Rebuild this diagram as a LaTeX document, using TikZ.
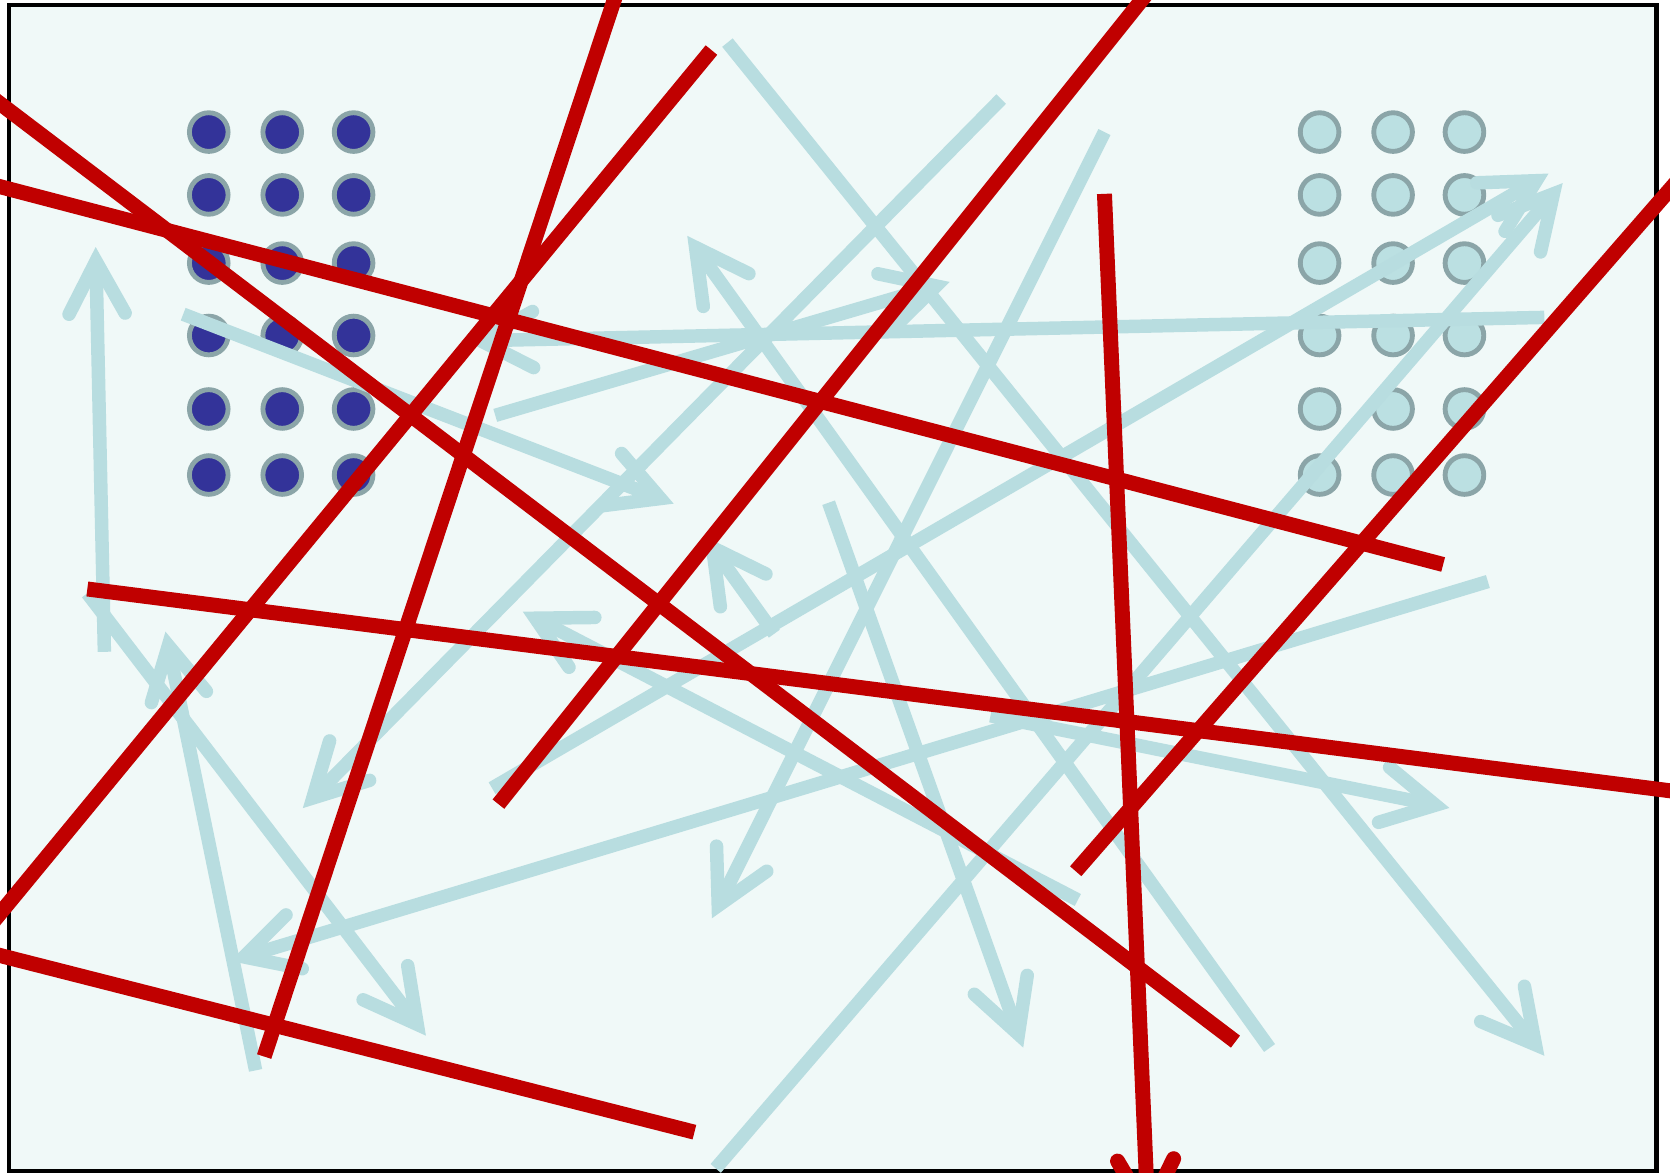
\documentclass[tikz,border=0pt]{standalone}
\usetikzlibrary{arrows.meta}
\definecolor{mint}{RGB}{240,249,248}
\definecolor{iceblue}{RGB}{184,221,224}
\definecolor{crimson}{RGB}{192,0,0}
\definecolor{indigo}{RGB}{51,51,153}
\definecolor{ringgray}{RGB}{139,165,168}
\definecolor{paleteal}{RGB}{187,224,226}

\begin{document}
\begin{tikzpicture}[
  x=0.1mm,y=-0.1mm,
  barb/.style={shorten >=-2.3pt,-{Straight Barb[length=14pt,width=15pt,line cap=round,line join=miter]}},
  ray/.style={draw=iceblue,line width=3.6pt,barb},
  cut/.style={draw=crimson,line width=4pt},
  darkdot/.style={circle,draw=ringgray,line width=1.3pt,fill=indigo,minimum size=3.63mm,inner sep=0pt},
  paledot/.style={circle,draw=ringgray,line width=1.3pt,fill=paleteal,minimum size=3.63mm,inner sep=0pt}
]
  \useasboundingbox (0,0) rectangle (1568,1101);
  \clip (0,0) rectangle (1568,1101);
  \fill[white] (0,0) rectangle (1568,1101);
  \filldraw[fill=mint,draw=black,line width=1.3pt] (8.4,4.7) rectangle (1555,1100);

  % dot grids
  \foreach \c [count=\i] in {196,265,332}
    \foreach \r [count=\j] in {124,183,247,315,384,446}
      \node[darkdot] (d\i\j) at (\c,\r) {};
  \foreach \c [count=\i] in {1239,1308,1375}
    \foreach \r [count=\j] in {124,183,247,315,384,446}
      \node[paledot] (p\i\j) at (\c,\r) {};

  % pale arrows
  \draw[ray] (98,612) -- (90,240);
  \draw[ray] (683,40) -- (1445,985);
  \draw[ray] (940,93) -- (290,753);
  \draw[ray] (1037,124) -- (672,855);
  \draw[ray] (1397,546) -- (224,900);
  \draw[ray] (778,472) -- (958,976);
  \draw[ray] (172,295) -- (625,470);
  \draw[ray] (465,390) -- (884,267);
  \draw[ray] (1450,298) -- (446,320);
  \draw[ray] (1192,984) -- (650,228);
  \draw[ray] (462,740) -- (1447,167);
  \draw[ray] (672,1097) -- (1462,178);
  \draw[ray] (1012,845) -- (498,578);
  \draw[ray] (727,595) -- (666,510);
  \draw[ray] (240,1005) -- (157,601);
  \draw[ray] (82,557) -- (395,966);
  \draw[ray] (930,672) -- (1353,757);

  % red cuts
  \draw[cut] (-20,82) -- (1160,978);
  \draw[cut] (-20,170) -- (1355,530);
  \draw[cut] (580,-10) -- (248,992);
  \draw[cut] (668,47) -- (-20,882);
  \draw[cut] (1080,-10) -- (468,755);
  \draw[cut,barb] (1037,182) -- (1078,1145);
  \draw[cut] (1580,164) -- (1010,818);
  \draw[cut] (82,553) -- (1580,744);
  \draw[cut] (-20,892) -- (652,1063);
\end{tikzpicture}
\end{document}
